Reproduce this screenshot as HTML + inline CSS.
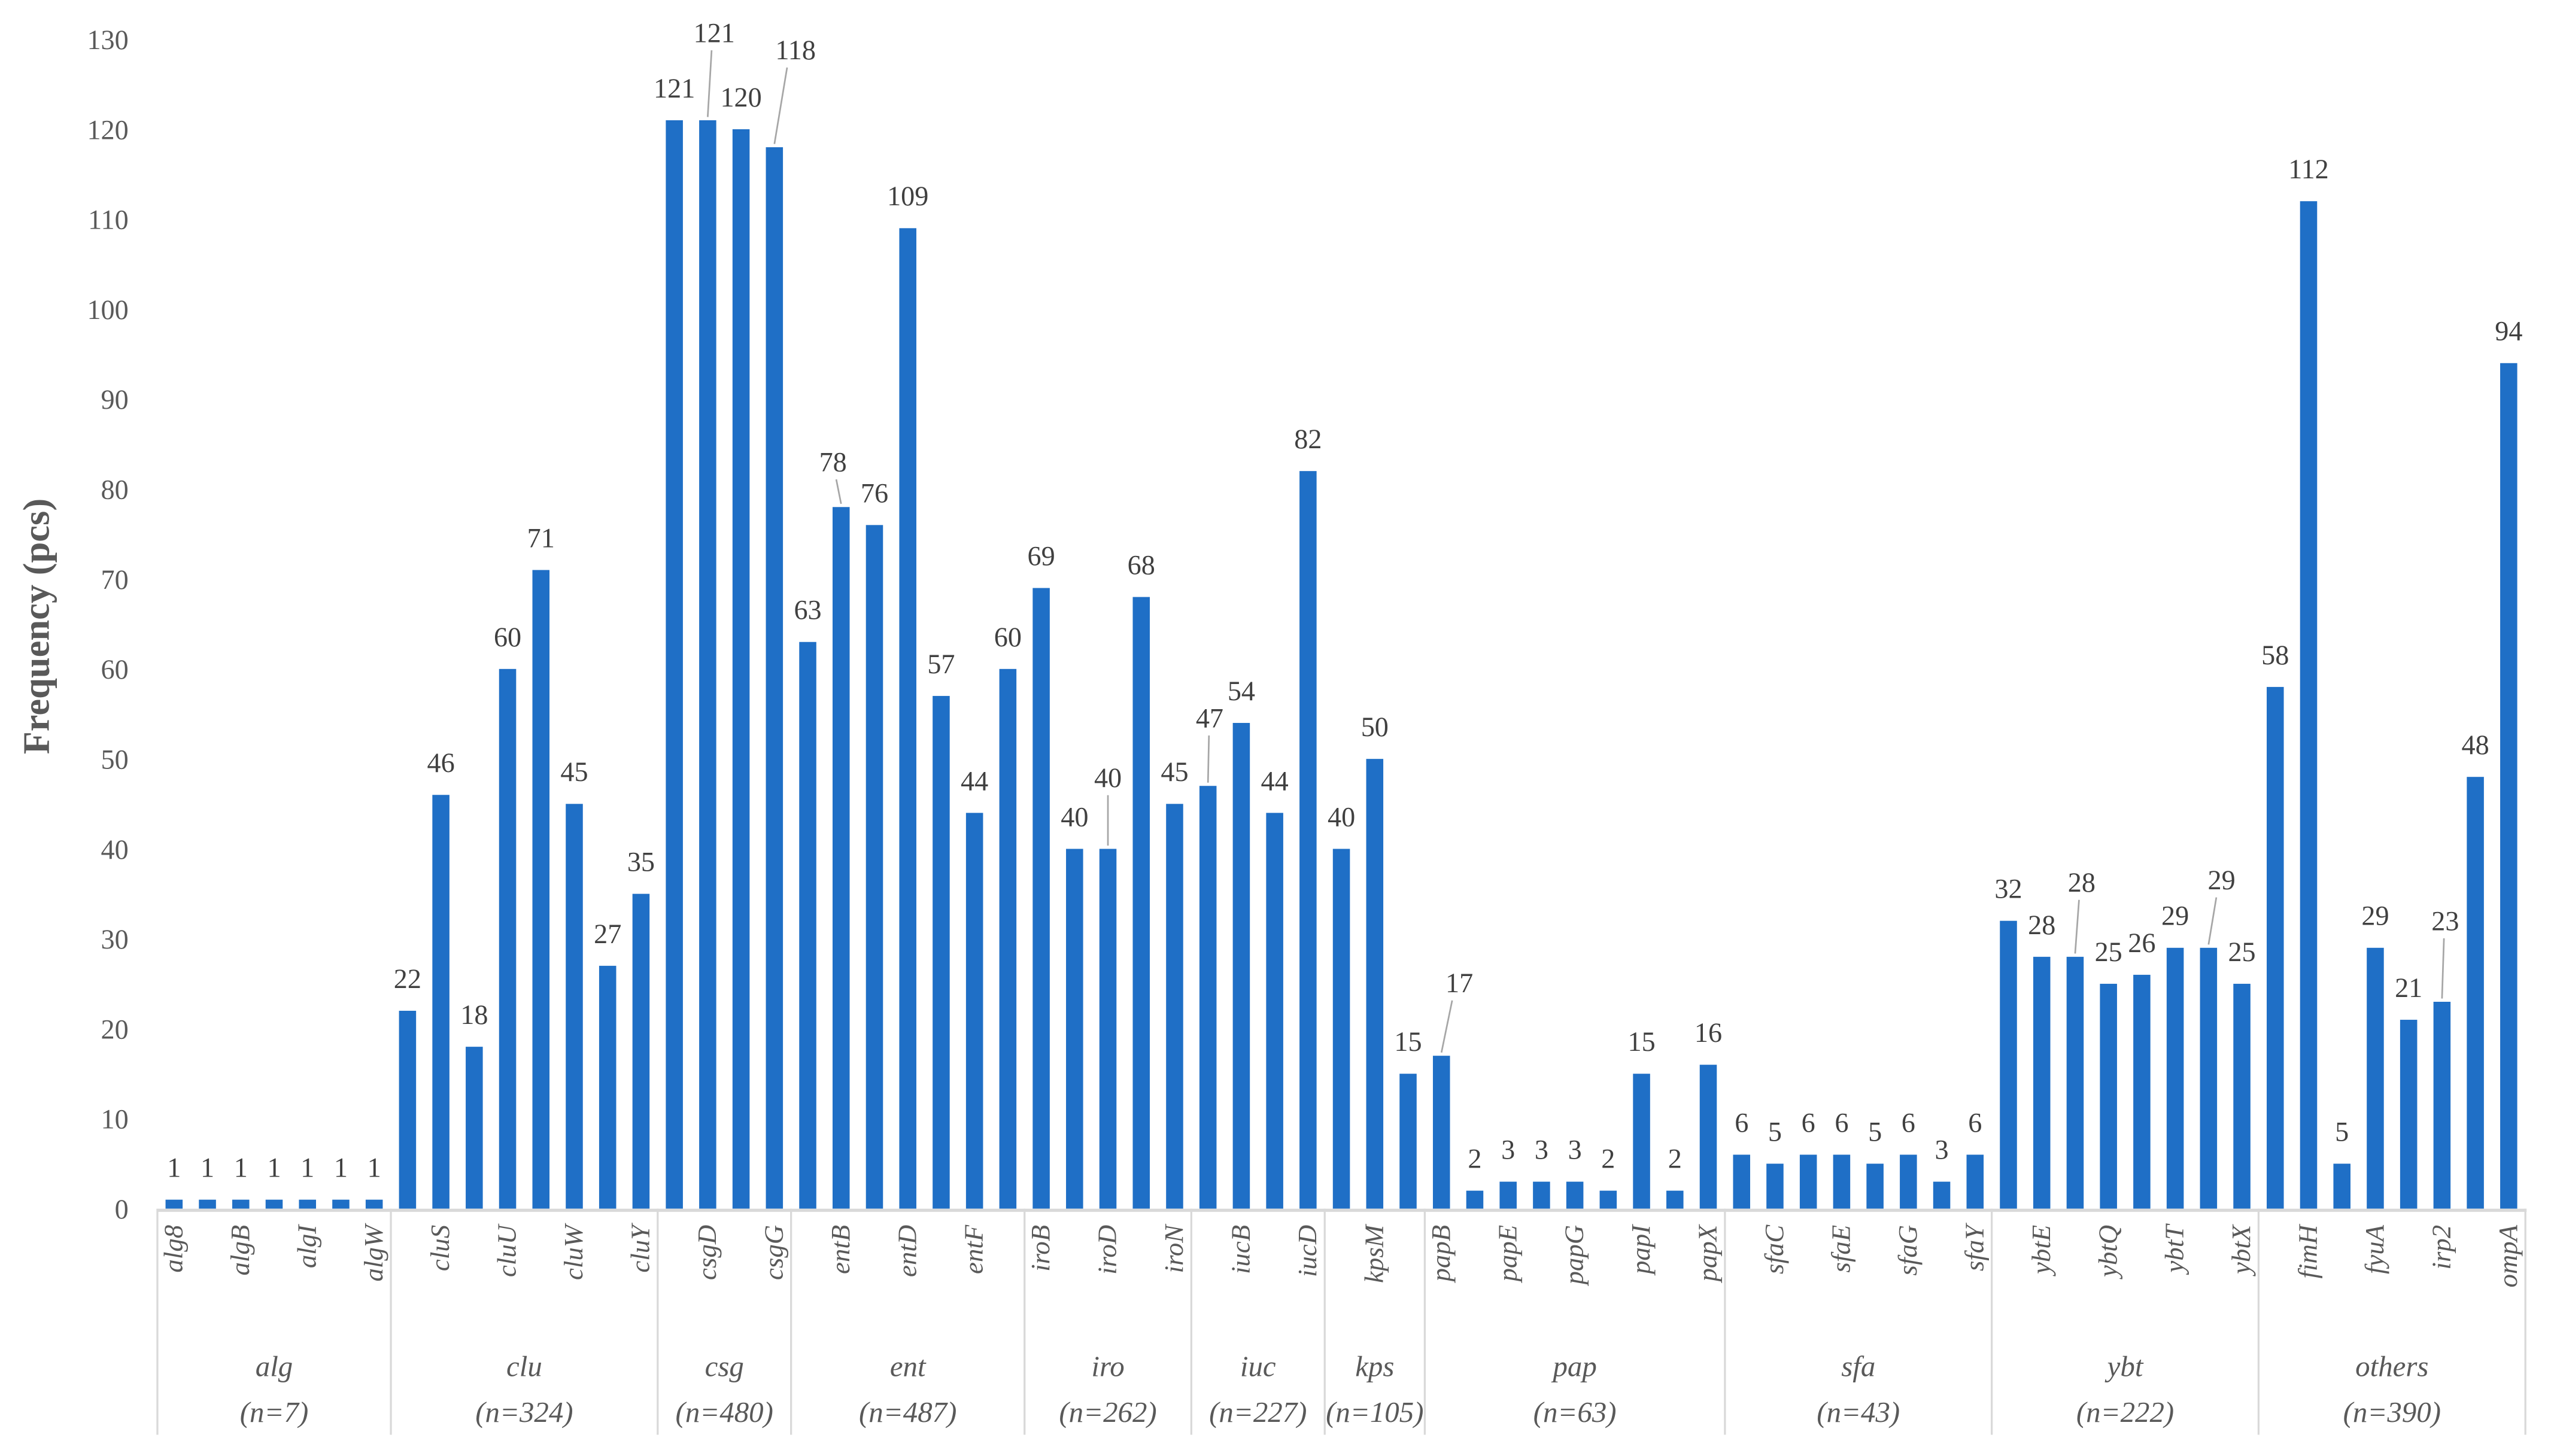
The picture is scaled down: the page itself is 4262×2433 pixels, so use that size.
<!DOCTYPE html>
<html><head><meta charset="utf-8"><style>
html,body{margin:0;padding:0;background:#fff;}
svg{display:block;}
text{font-family:"Liberation Serif",serif;}
</style></head><body>
<svg id="chart" width="4262" height="2433" viewBox="0 0 1568 895" xmlns="http://www.w3.org/2000/svg">
<text x="0" y="0" transform="translate(30,385) rotate(-90)" text-anchor="middle" font-size="23" font-weight="bold" fill="#595959">Frequency (pcs)</text>
</svg>
<script>
const groups = ["alg","clu","csg","ent","iro","iuc","kps","pap","sfa","ybt","others"];
const groupN = ["(n=7)","(n=324)","(n=480)","(n=487)","(n=262)","(n=227)","(n=105)","(n=63)","(n=43)","(n=222)","(n=390)"];
const groupSizes = [7,8,4,7,5,4,3,9,8,8,8];
const categories = ["alg8","alg44","algB","algE","algI","algU","algW",
 "cluR","cluS","cluT","cluU","cluV","cluW","cluX","cluY",
 "csgA","csgD","csgF","csgG",
 "entA","entB","entC","entD","entE","entF","entS",
 "iroB","iroC","iroD","iroE","iroN",
 "iucA","iucB","iucC","iucD",
 "kpsD","kpsM","kpsT",
 "papB","papC","papE","papF","papG","papH","papI","papK","papX",
 "sfaB","sfaC","sfaD","sfaE","sfaF","sfaG","sfaH","sfaY",
 "ybtA","ybtE","ybtP","ybtQ","ybtS","ybtT","ybtU","ybtX",
 "cvaC","fimH","iss","fyuA","irp1","irp2","iutA","ompA"];
const values = [1,1,1,1,1,1,1,
 22,46,18,60,71,45,27,35,
 121,121,120,118,
 63,78,76,109,57,44,60,
 69,40,40,68,45,
 47,54,44,82,
 40,50,15,
 17,2,3,3,3,2,15,2,16,
 6,5,6,6,5,6,3,6,
 32,28,28,25,26,29,29,25,
 58,112,5,29,21,23,48,94];
const yTicks = [0,10,20,30,40,50,60,70,80,90,100,110,120,130];

// layout (not data)
const X0 = 107, STEP = 20.5, BW = 10.5, Y0 = 743, YSCALE = 5.53;
const labelAdjust = {16:[4,-34],18:[13,-40],20:[-5,-8],28:[0,-24],31:[1,-22],38:[11,-25],57:[4,-26],61:[8,-22],68:[2,-30]};
const NS = "http://www.w3.org/2000/svg";
const svg = document.getElementById("chart");
function xPos(i){ return X0 + i*STEP; }
function yPos(v){ return Y0 - v*YSCALE; }
function mk(tag, attrs, txt){
  const e = document.createElementNS(NS, tag);
  for (const k in attrs) e.setAttribute(k, attrs[k]);
  if (txt !== undefined) e.textContent = txt;
  svg.appendChild(e);
  return e;
}
yTicks.forEach(t => {
  const e = mk("text", {x:79, y:yPos(t)+6, "text-anchor":"end", "font-size":17, fill:"#595959"}, String(t));
  
  
});
values.forEach((v, i) => {
  const cx = xPos(i);
  const r = mk("rect", {x:cx-BW/2, y:yPos(v), width:BW, height:v*YSCALE, fill:"#1f6fc6"});
  
  
  const adj = labelAdjust[i] || [0,0];
  const ty = yPos(v) - 14 + adj[1];
  const t = mk("text", {x:cx+adj[0], y:ty, "text-anchor":"middle", "font-size":17, fill:"#404040"}, String(v));
  
  
  if (labelAdjust[i]) {
    const l = mk("line", {x1:cx+adj[0]*0.6, y1:ty+5, x2:cx, y2:yPos(v)-2, stroke:"#a6a6a6", "stroke-width":1});
    
    
  }
  if (i % 2 === 0) {
    const c = mk("text", {x:0, y:0, transform:"translate("+(cx+5)+",753) rotate(-90)", "text-anchor":"end", "font-size":16.5, "font-style":"italic", fill:"#595959"}, categories[i]);
    
    
  }
});
const ax = mk("line", {x1:97, y1:Y0+1, x2:1553, y2:Y0+1, stroke:"#d9d9d9", "stroke-width":2});


let start = 0;
groups.forEach((g, gi) => {
  const left = xPos(start) - STEP/2, right = xPos(start + groupSizes[gi] - 1) + STEP/2;
  const sep = mk("line", {x1:left, y1:Y0, x2:left, y2:882, stroke:"#d9d9d9", "stroke-width":1.2});
  
  
  const mid = (left + right) / 2;
  const gn = mk("text", {x:mid, y:846, "text-anchor":"middle", "font-size":18, "font-style":"italic", fill:"#595959"}, g);
  
  
  const nn = mk("text", {x:mid, y:874, "text-anchor":"middle", "font-size":18, "font-style":"italic", fill:"#595959"}, groupN[gi]);
  
  
  start += groupSizes[gi];
  if (gi === groups.length - 1) {
    const end = mk("line", {x1:right, y1:Y0, x2:right, y2:882, stroke:"#d9d9d9", "stroke-width":1.2});
    
    
  }
});
</script>
</body></html>
